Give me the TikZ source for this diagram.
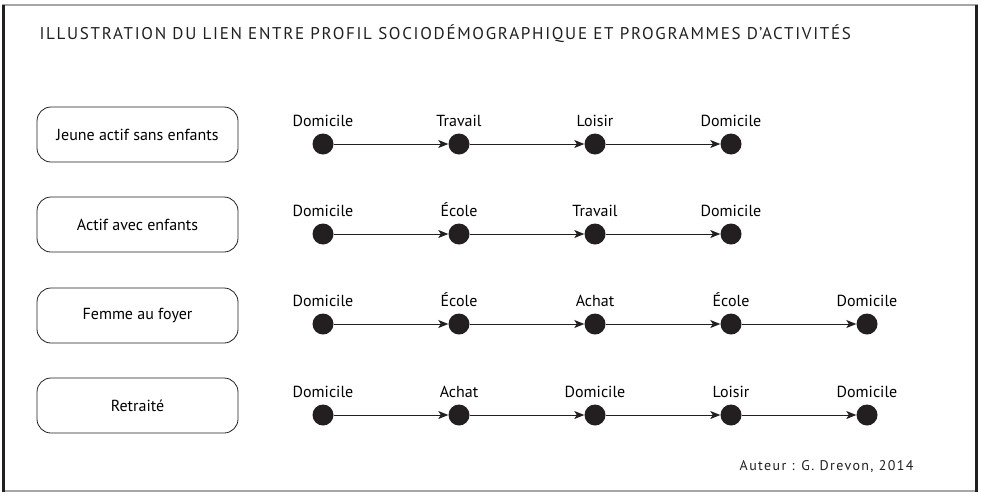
\documentclass[tikz,border=0pt]{standalone}
\usepackage{fontspec}
\setmainfont{PT Sans}
\newfontfamily\capsfont[LetterSpace=10]{PT Sans}
\newfontfamily\authfont[LetterSpace=10]{PT Sans}
\usetikzlibrary{arrows.meta}
\definecolor{ink}{HTML}{231F20}

\begin{document}
\begin{tikzpicture}[x=1pt, y=-1pt,
    profil/.style={draw=ink, line width=0.8pt, rounded corners=14pt, minimum width=201pt, minimum height=55pt, font=\fontsize{16}{19}\selectfont},
    lieu/.style={circle, fill=ink, minimum size=21pt, inner sep=0pt,
        label={[inner sep=0pt, yshift=6pt, font=\fontsize{16}{19}\selectfont]above:#1}},
    fleche/.style={-{Stealth[length=10pt, width=8pt, inset=2.5pt]}, draw=ink, line width=0.9pt}]
    \useasboundingbox (0,0) rectangle (982,493);
    \draw[gray!70, line width=1.5pt] (3,5) rectangle (977,491);
    \draw[ink, line width=3pt] (3.5,4.5) -- (3.5,491.5) (976.5,4.5) -- (976.5,491.5);

    \node[anchor=west, text=ink, font=\capsfont\fontsize{17}{20}\selectfont] (titre) at (36,34)
        {ILLUSTRATION DU LIEN ENTRE PROFIL SOCIODÉMOGRAPHIQUE ET PROGRAMMES D’ACTIVITÉS};

    % profils
    \node[profil] (jeune) at (137.5,134.5) {Jeune actif sans enfants};
    \node[profil] (actif) at (137.5,224.5) {Actif avec enfants};
    \node[profil] (femme) at (137.5,315.5) {Femme au foyer};
    \node[profil] (retraite) at (137.5,405.5) {Retraité};

    % jeune actif
    \node[lieu=Domicile] (j1) at (323,144) {};
    \node[lieu=Travail] (j2) at (459,144) {};
    \node[lieu=Loisir] (j3) at (595,144) {};
    \node[lieu=Domicile] (j4) at (731,144) {};
    \draw[fleche] (j1) -- (j2);
    \draw[fleche] (j2) -- (j3);
    \draw[fleche] (j3) -- (j4);

    % actif avec enfants
    \node[lieu=Domicile] (a1) at (323,234) {};
    \node[lieu=École] (a2) at (459,234) {};
    \node[lieu=Travail] (a3) at (595,234) {};
    \node[lieu=Domicile] (a4) at (731,234) {};
    \draw[fleche] (a1) -- (a2);
    \draw[fleche] (a2) -- (a3);
    \draw[fleche] (a3) -- (a4);

    % femme au foyer
    \node[lieu=Domicile] (f1) at (323,324) {};
    \node[lieu=École] (f2) at (459,324) {};
    \node[lieu=Achat] (f3) at (595,324) {};
    \node[lieu=École] (f4) at (731,324) {};
    \node[lieu=Domicile] (f5) at (867,324) {};
    \draw[fleche] (f1) -- (f2);
    \draw[fleche] (f2) -- (f3);
    \draw[fleche] (f3) -- (f4);
    \draw[fleche] (f4) -- (f5);

    % retraite
    \node[lieu=Domicile] (r1) at (323,415) {};
    \node[lieu=Achat] (r2) at (459,415) {};
    \node[lieu=Domicile] (r3) at (595,415) {};
    \node[lieu=Loisir] (r4) at (731,415) {};
    \node[lieu=Domicile] (r5) at (867,415) {};
    \draw[fleche] (r1) -- (r2);
    \draw[fleche] (r2) -- (r3);
    \draw[fleche] (r3) -- (r4);
    \draw[fleche] (r4) -- (r5);

    \node[anchor=east, text=ink, font=\authfont\fontsize{14}{17}\selectfont] (auteur) at (917,467) {Auteur : G. Drevon, 2014};
\end{tikzpicture}
\end{document}
